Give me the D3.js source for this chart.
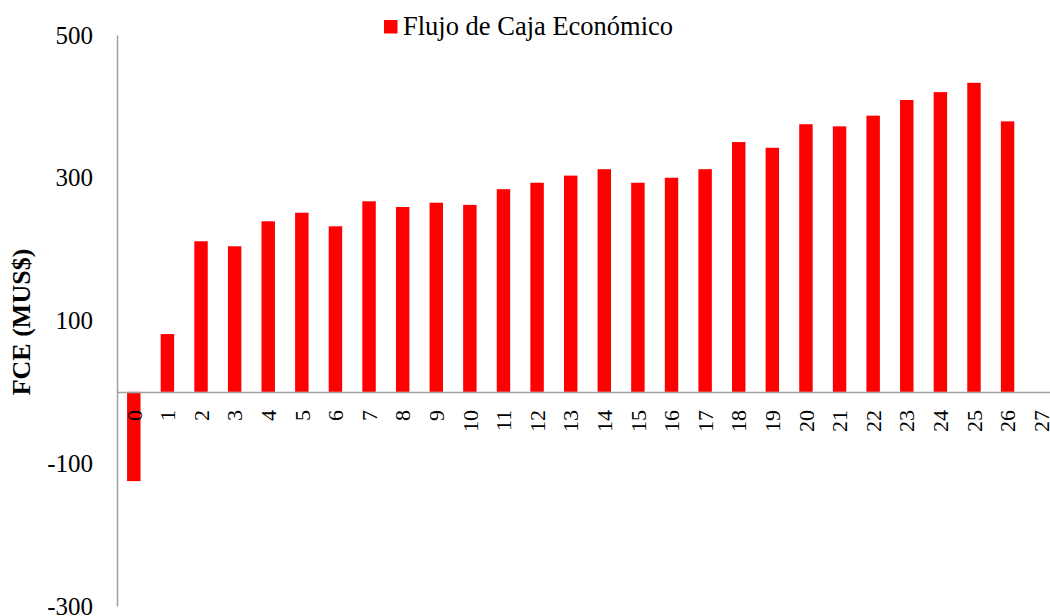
<!DOCTYPE html>
<html>
<head>
<meta charset="utf-8">
<script src="https://cdn.jsdelivr.net/npm/d3@7"></script>
<style>
  body { margin: 0; background: #fff; }
  svg { display: block; font-family: "Liberation Serif", "Times New Roman", serif; }
</style>
</head>
<body>
<svg width="1050" height="616"></svg>
<script>
// años del proyecto y flujo de caja económico (MUS$)
var years = ["0","1","2","3","4","5","6","7","8","9","10","11","12","13",
             "14","15","16","17","18","19","20","21","22","23","24","25","26","27"];
var fce = [-125, 81, 211, 204, 239, 251, 232, 267, 259, 265, 262, 284, 293, 303,
           312, 293, 300, 312, 350, 342, 375, 372, 387, 409, 420, 433, 379, null];
var yTicks = [500, 300, 100, -100, -300];
var seriesName = "Flujo de Caja Económico";

var svg = d3.select("svg");
var axisColor = "#a0a0a0";

var xScale = d3.scaleBand().domain(years).range([117, 1058])
    .paddingInner(0.6).paddingOuter(0.3);
var yScale = d3.scaleLinear().domain([-300, 500]).range([606, 35]);

// eje y
var gy = svg.append("g")
  .attr("transform", "translate(117,0)")
  .call(d3.axisLeft(yScale).tickValues(yTicks)
    .tickFormat(function (d) { return String(d); }) // guion normal, no signo menos
    .tickSize(0).tickSizeOuter(0).tickPadding(24));
gy.select(".domain").attr("stroke", axisColor).attr("stroke-width", 1.5);
gy.selectAll("text").attr("font-size", "25px").attr("fill", "#000")
  .attr("font-family", "Liberation Serif");

// barras
svg.selectAll(".bar")
  .data(years.map(function (d, i) { return { year: d, v: fce[i] }; })
    .filter(function (d) { return d.v !== null; }))
  .enter()
  .append("rect")
  .attr("class", "bar")
  .attr("x", function (d) { return xScale(d.year); })
  .attr("y", function (d) { return yScale(Math.max(0, d.v)); })
  .attr("width", xScale.bandwidth())
  .attr("height", function (d) { return Math.abs(yScale(d.v) - yScale(0)); })
  .attr("fill", "#ff0000");

// eje x en cero
var gx = svg.append("g")
  .attr("transform", "translate(0," + yScale(0) + ")")
  .call(d3.axisBottom(xScale).tickSize(0).tickSizeOuter(0));
gx.select(".domain").attr("stroke", axisColor).attr("stroke-width", 1.5);
gx.selectAll("text")
  .attr("font-size", "22px")
  .attr("fill", "#000")
  .attr("font-family", "Liberation Serif")
  .attr("text-anchor", "end")
  .attr("transform", "translate(0,18) rotate(-90)")
  .attr("x", 0)
  .attr("y", 0)
  .attr("dy", "0.35em");

// título eje y
svg.append("text")
  .attr("transform", "translate(30,322) rotate(-90)")
  .attr("text-anchor", "middle")
  .attr("font-size", "26px")
  .attr("font-weight", "bold")
  .text("FCE (MUS$)");

// leyenda
svg.append("rect")
  .attr("x", 384).attr("y", 20)
  .attr("width", 13.5).attr("height", 13.5)
  .attr("fill", "#ff0000");
svg.append("text")
  .attr("x", 403).attr("y", 35)
  .attr("font-size", "26.5px")
  .text(seriesName);
</script>
</body>
</html>
